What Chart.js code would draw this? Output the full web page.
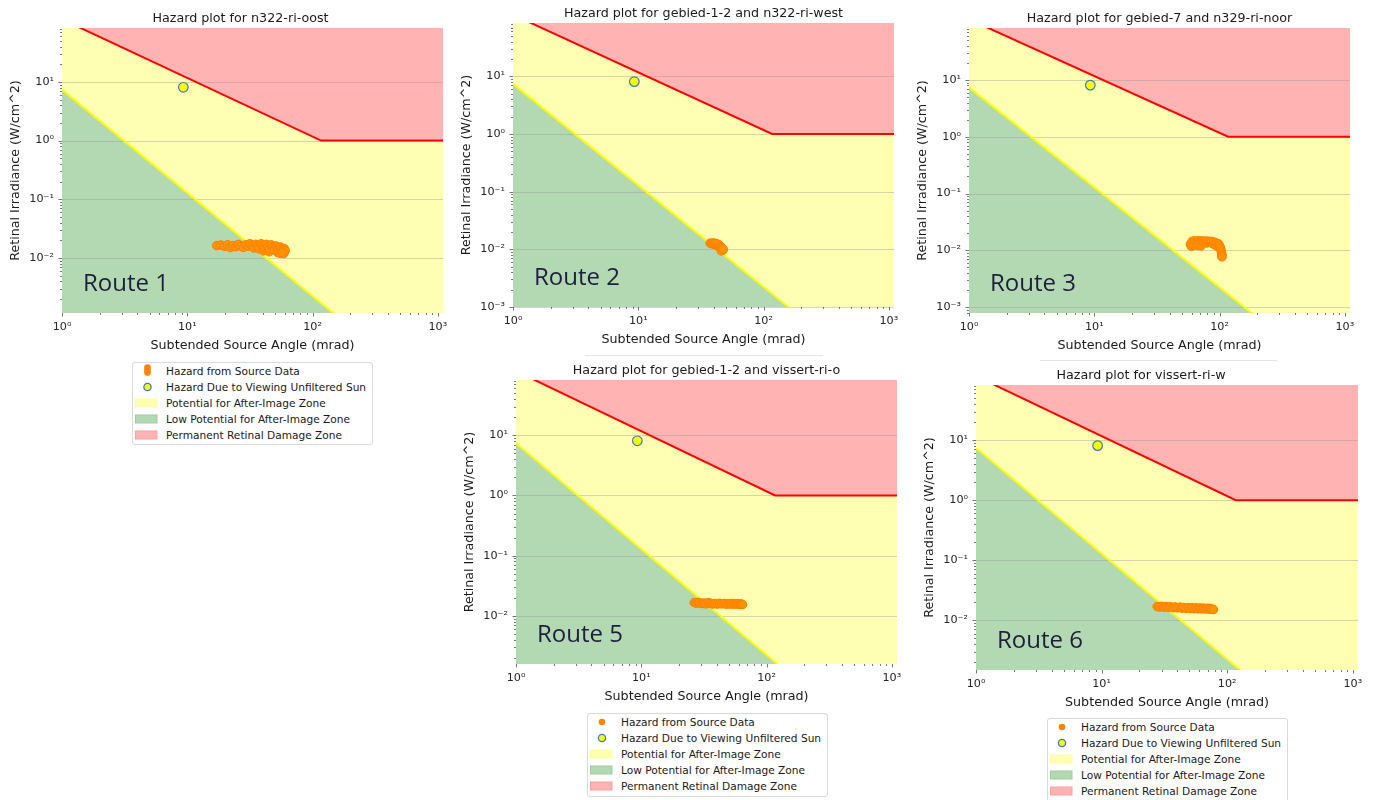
<!DOCTYPE html>
<html>
<head>
<meta charset="utf-8">
<title>Hazard plots</title>
<script src="https://cdn.jsdelivr.net/npm/chart.js@4.4.1/dist/chart.umd.min.js"></script>
<style>
  html, body { margin: 0; padding: 0; background: #fff; }
  body { width: 1373px; height: 800px; overflow: hidden; position: relative; font-family: 'DejaVu Sans', sans-serif; }
  canvas { position: absolute; }
  .legend { position: absolute; box-sizing: border-box; width: 241px; border: 1px solid #d9d9d9; border-radius: 3px;
            background: #fff; color: #1a1a1a; font-size: 10.6px; }
  .row { position: absolute; left: 0; height: 16px; line-height: 16px; padding-left: 33px; white-space: nowrap; }
  .row svg { position: absolute; left: 0; top: 0; }
  .sep { position: absolute; height: 1px; background: #e3e3e3; }
</style>
</head>
<body>

<div class="sep" style="left:585px; top:355px; width:238px;"></div>
<div class="sep" style="left:1040px; top:360px; width:237px;"></div>

<div class="legend" style="left:132px; top:362px; height:83px;">
  <div class="row" style="top:0px;"><svg width="30" height="16"><circle cx="14.5" cy="4.6" r="3.3" fill="#ff8400"/><circle cx="14.5" cy="7.2" r="3.3" fill="#ff8400"/><circle cx="14.5" cy="9.6" r="3.3" fill="#ff8400"/></svg>Hazard from Source Data</div>
  <div class="row" style="top:16.1px;"><svg width="30" height="16"><circle cx="14.5" cy="8" r="3.6" fill="#ffff00" stroke="#3d7ab8" stroke-width="1.3"/></svg>Hazard Due to Viewing Unfiltered Sun</div>
  <div class="row" style="top:32.2px;"><svg width="30" height="16"><rect x="2.5" y="4" width="21.5" height="8" fill="#ffffb3" stroke="#ffff99"/></svg>Potential for After-Image Zone</div>
  <div class="row" style="top:48.3px;"><svg width="30" height="16"><rect x="2.5" y="4" width="21.5" height="8" fill="#b3d9b3" stroke="#9fcc9f"/></svg>Low Potential for After-Image Zone</div>
  <div class="row" style="top:64.4px;"><svg width="30" height="16"><rect x="2.5" y="4" width="21.5" height="8" fill="#ffb3b3" stroke="#ffa0a0"/></svg>Permanent Retinal Damage Zone</div>
</div>

<div class="legend" style="left:587px; top:713px; height:84px;">
  <div class="row" style="top:0px;"><svg width="30" height="16"><circle cx="14" cy="8" r="3.3" fill="#ff8400"/></svg>Hazard from Source Data</div>
  <div class="row" style="top:16.1px;"><svg width="30" height="16"><circle cx="14" cy="8" r="3.6" fill="#ffff00" stroke="#3d7ab8" stroke-width="1.3"/></svg>Hazard Due to Viewing Unfiltered Sun</div>
  <div class="row" style="top:32.2px;"><svg width="30" height="16"><rect x="2.5" y="4" width="21.5" height="8" fill="#ffffb3" stroke="#ffff99"/></svg>Potential for After-Image Zone</div>
  <div class="row" style="top:48.3px;"><svg width="30" height="16"><rect x="2.5" y="4" width="21.5" height="8" fill="#b3d9b3" stroke="#9fcc9f"/></svg>Low Potential for After-Image Zone</div>
  <div class="row" style="top:64.4px;"><svg width="30" height="16"><rect x="2.5" y="4" width="21.5" height="8" fill="#ffb3b3" stroke="#ffa0a0"/></svg>Permanent Retinal Damage Zone</div>
</div>

<div class="legend" style="left:1047px; top:718px; height:90px;">
  <div class="row" style="top:0px;"><svg width="30" height="16"><circle cx="14" cy="8" r="3.3" fill="#ff8400"/></svg>Hazard from Source Data</div>
  <div class="row" style="top:16.1px;"><svg width="30" height="16"><circle cx="14" cy="8" r="3.6" fill="#ffff00" stroke="#3d7ab8" stroke-width="1.3"/></svg>Hazard Due to Viewing Unfiltered Sun</div>
  <div class="row" style="top:32.2px;"><svg width="30" height="16"><rect x="2.5" y="4" width="21.5" height="8" fill="#ffffb3" stroke="#ffff99"/></svg>Potential for After-Image Zone</div>
  <div class="row" style="top:48.3px;"><svg width="30" height="16"><rect x="2.5" y="4" width="21.5" height="8" fill="#b3d9b3" stroke="#9fcc9f"/></svg>Low Potential for After-Image Zone</div>
  <div class="row" style="top:64.4px;"><svg width="30" height="16"><rect x="2.5" y="4" width="21.5" height="8" fill="#ffb3b3" stroke="#ffa0a0"/></svg>Permanent Retinal Damage Zone</div>
</div>

<script>
// ---- axis ticks ----
const xMajorTicks = [1, 10, 100, 1000];
const xTickLabels = ['10⁰', '10¹', '10²', '10³'];
const yMajorTicks = [0.001, 0.01, 0.1, 1, 10];
const yTickLabels = ['10⁻³', '10⁻²', '10⁻¹', '10⁰', '10¹'];
const xRange = [1, 1100];

// ---- zone boundaries [angle mrad, irradiance W/cm^2] ----
const permanentDamageLine = [[1, 117], [117, 1], [2000, 1]];
const lowPotentialLine = [[1, 7.4], [200, 0.00066]];

// ---- unfiltered sun ----
const sunHazard = [[9.3, 8.1]];

// ---- hazard from source data, per route ----
const route1Hazard = [
  [17.2, 0.0162], [18.5, 0.0166], [19.8, 0.0157], [21.0, 0.0167], [22.0, 0.0150], [23.2, 0.0162],
  [24.5, 0.0155], [25.5, 0.0170], [26.8, 0.0160], [28.0, 0.0151], [29.3, 0.0167], [30.4, 0.0158],
  [31.6, 0.0174], [32.9, 0.0163], [34.0, 0.0148], [35.3, 0.0170], [36.6, 0.0158], [37.4, 0.0143],
  [38.9, 0.0174], [40.1, 0.0160], [40.5, 0.0132], [41.5, 0.0149], [42.7, 0.0170], [44.0, 0.0155],
  [45.0, 0.0127], [45.3, 0.0143], [46.8, 0.0167], [48.2, 0.0151], [49.6, 0.0138], [51.0, 0.0160],
  [52.4, 0.0146], [52.5, 0.0124], [54.0, 0.0136], [55.0, 0.0120], [55.4, 0.0153], [56.8, 0.0140],
  [58.0, 0.0130], [59.0, 0.0119], [59.4, 0.0145], [60.5, 0.0133], [57.2, 0.0124]
];
const route2Hazard = [
  [37.5, 0.0128], [38.5, 0.0125], [39.5, 0.0129], [40.4, 0.0122], [41.3, 0.0127], [42.0, 0.0118],
  [42.9, 0.0123], [43.6, 0.0113], [44.3, 0.0119], [44.9, 0.0107], [45.5, 0.0112], [46.1, 0.0101],
  [46.6, 0.0106], [47.2, 0.0097], [46.0, 0.0094], [47.6, 0.0100]
];
const route3Hazard = [
  [58.5, 0.0128], [59.5, 0.0118], [60.5, 0.0144], [62.0, 0.0124], [63.0, 0.0147], [65.0, 0.0140],
  [66.5, 0.0122], [67.5, 0.0148], [69.5, 0.0138], [71.0, 0.0120], [72.0, 0.0147], [74.5, 0.0141],
  [77.0, 0.0146], [79.0, 0.0135], [81.0, 0.0145], [83.5, 0.0139], [86.0, 0.0144], [88.0, 0.0131],
  [90.0, 0.0140], [92.0, 0.0125], [94.0, 0.0135], [96.0, 0.0118], [98.0, 0.0130], [100.0, 0.0122],
  [101.5, 0.0112], [102.5, 0.0103], [103.5, 0.0095], [104.0, 0.0087], [104.5, 0.0081], [104.5, 0.0077]
];
const route5Hazard = [
  [26.5, 0.0166], [27.5, 0.0162], [28.5, 0.0167], [29.2, 0.0164], [30.5, 0.0160], [31.5, 0.0163],
  [32.8, 0.0158], [34.2, 0.0166], [35.5, 0.0161], [37.0, 0.0157], [38.8, 0.0160], [40.5, 0.0157],
  [42.1, 0.0161], [44.0, 0.0158], [46.1, 0.0160], [47.8, 0.0156], [49.7, 0.0159], [51.2, 0.0157],
  [52.8, 0.0160], [54.5, 0.0156], [56.2, 0.0159], [57.9, 0.0157], [59.5, 0.0159], [61.5, 0.0155],
  [63.0, 0.0157], [64.3, 0.0154]
];
const route6Hazard = [
  [27.7, 0.0169], [28.8, 0.0166], [30.0, 0.0170], [31.3, 0.0165], [32.7, 0.0168], [34.0, 0.0164],
  [35.3, 0.0167], [37.0, 0.0162], [38.5, 0.0166], [40.0, 0.0161], [42.0, 0.0165], [43.5, 0.0159],
  [45.0, 0.0163], [47.0, 0.0158], [49.0, 0.0162], [50.8, 0.0157], [52.5, 0.0162], [54.5, 0.0156],
  [56.5, 0.0161], [58.5, 0.0155], [60.5, 0.0160], [62.5, 0.0155], [64.5, 0.0159], [66.8, 0.0154],
  [69.0, 0.0158], [71.0, 0.0153], [73.0, 0.0157], [75.0, 0.0153], [77.6, 0.0151]
];

const routeHazards = [route1Hazard, route2Hazard, route3Hazard, route5Hazard, route6Hazard];
const panelTitles = [
  'Hazard plot for n322-ri-oost',
  'Hazard plot for gebied-1-2 and n322-ri-west',
  'Hazard plot for gebied-7 and n329-ri-noor',
  'Hazard plot for gebied-1-2 and vissert-ri-o',
  'Hazard plot for vissert-ri-w'
];
const routeLabels = ['Route 1', 'Route 2', 'Route 3', 'Route 5', 'Route 6'];
const yAxisMin = [0.00115, 0.001, 0.00079, 0.00158, 0.00148];
const yAxisMax = [83, 84, 82, 83, 83];

// ---- page layout: plot area of each panel (px) ----
const panelBoxes = [
  { left: 62,  top: 28,  right: 443,  bottom: 313, titleShift: -12 },
  { left: 513, top: 23,  right: 894,  bottom: 307, titleShift: 0 },
  { left: 969, top: 28,  right: 1350, bottom: 313, titleShift: 0 },
  { left: 516, top: 380, right: 897,  bottom: 664, titleShift: 0 },
  { left: 976, top: 385, right: 1358, bottom: 670, titleShift: -26 }
];

const FONT = "'DejaVu Sans', sans-serif";
const toXY = pts => pts.map(([x, y]) => ({ x, y }));

function labelFor(value, majors, labels) {
  const i = majors.findIndex(t => Math.abs(Math.log10(t) - Math.log10(value)) < 1e-9);
  return i < 0 ? '' : labels[i];
}

function minorValues(lo, hi) {
  const out = [];
  for (let e = Math.floor(Math.log10(lo)); e <= Math.ceil(Math.log10(hi)); e++) {
    for (let m = 2; m <= 9; m++) {
      const v = m * Math.pow(10, e);
      if (v >= lo && v <= hi) out.push(v);
    }
  }
  return out;
}

function decorations(i) {
  return {
    id: 'panelDecor' + i,
    // horizontal grid at the decades, over the zone fills and under the lines
    beforeDatasetsDraw(chart) {
      const { ctx, chartArea: a, scales: { y } } = chart;
      ctx.save();
      ctx.strokeStyle = 'rgba(150,150,150,0.4)';
      ctx.lineWidth = 1;
      for (const t of y.ticks) {
        const py = Math.round(y.getPixelForValue(t.value)) + 0.5;
        ctx.beginPath(); ctx.moveTo(a.left, py); ctx.lineTo(a.right, py); ctx.stroke();
      }
      ctx.restore();
    },
    afterDraw(chart) {
      const { ctx, chartArea: a, scales: { x, y } } = chart;
      ctx.save();
      // tick marks
      ctx.strokeStyle = '#555';
      ctx.lineWidth = 0.8;
      const xTick = (v, len) => {
        const px = Math.round(x.getPixelForValue(v)) + 0.5;
        ctx.beginPath(); ctx.moveTo(px, a.bottom); ctx.lineTo(px, a.bottom + len); ctx.stroke();
      };
      const yTick = (v, len) => {
        const py = Math.round(y.getPixelForValue(v)) + 0.5;
        ctx.beginPath(); ctx.moveTo(a.left - len, py); ctx.lineTo(a.left, py); ctx.stroke();
      };
      x.ticks.forEach(t => xTick(t.value, 3.5));
      minorValues(x.min, x.max).forEach(v => xTick(v, 2));
      y.ticks.forEach(t => yTick(t.value, 3.5));
      minorValues(y.min, y.max).forEach(v => yTick(v, 2));

      // panel title
      ctx.fillStyle = '#1a1a1a';
      ctx.font = '12.7px ' + FONT;
      ctx.textAlign = 'center';
      ctx.textBaseline = 'alphabetic';
      ctx.fillText(panelTitles[i], (a.left + a.right) / 2 + panelBoxes[i].titleShift, a.top - 6);

      // route label
      ctx.fillStyle = '#1f1f3d';
      ctx.font = "24px 'Open Sans', sans-serif";
      ctx.textAlign = 'left';
      ctx.fillText(routeLabels[i], a.left + 21, a.bottom - 22);
      ctx.restore();
    }
  };
}

function makePanel(i) {
  const box = panelBoxes[i];
  const cl = box.left - 60, ct = box.top - 23;
  const cw = box.right - box.left + 74, ch = box.bottom - box.top + 70;
  const cv = document.createElement('canvas');
  cv.width = cw; cv.height = ch;
  cv.style.left = cl + 'px'; cv.style.top = ct + 'px';
  cv.style.width = cw + 'px'; cv.style.height = ch + 'px';
  document.body.appendChild(cv);

  const tickFont = { family: FONT, size: 11.2 };
  const titleFont = { family: FONT, size: 12.7 };

  new Chart(cv, {
    type: 'line',
    data: {
      datasets: [
        { label: 'Potential for After-Image Zone', data: toXY(permanentDamageLine), fill: 'start',
          backgroundColor: '#ffffb3', borderWidth: 0, pointRadius: 0, order: 10 },
        { label: 'Low Potential for After-Image Zone', data: toXY(lowPotentialLine), fill: 'start',
          backgroundColor: '#b3d9b3', borderColor: '#ffff00', borderWidth: 2, pointRadius: 0, order: 9 },
        { label: 'Permanent Retinal Damage Zone', data: toXY(permanentDamageLine), fill: 'end',
          backgroundColor: '#ffb3b3', borderColor: '#ff0000', borderWidth: 2, pointRadius: 0, order: 8 },
        { label: 'Hazard from Source Data', data: toXY(routeHazards[i]), showLine: false,
          pointRadius: 4.3, pointBackgroundColor: '#ff9400', pointBorderColor: '#ff8000', pointBorderWidth: 1, order: 2 },
        { label: 'Hazard Due to Viewing Unfiltered Sun', data: toXY(sunHazard), showLine: false,
          pointRadius: 4.8, pointBackgroundColor: '#ffff00', pointBorderColor: '#3d7ab8', pointBorderWidth: 1.2, order: 1 }
      ]
    },
    options: {
      responsive: false,
      animation: false,
      events: [],
      layout: { padding: { left: 5, top: 23, right: 14, bottom: 2 } },
      plugins: {
        legend: { display: false },
        tooltip: { enabled: false },
        title: { display: false },
        filler: { drawTime: 'beforeDatasetsDraw' }
      },
      scales: {
        x: {
          type: 'logarithmic', min: xRange[0], max: xRange[1], bounds: 'data',
          afterBuildTicks: s => { s.ticks = xMajorTicks.filter(v => v >= s.min && v <= s.max).map(v => ({ value: v })); },
          afterFit: s => { s.height = 45; },
          grid: { display: false, drawTicks: false },
          border: { display: false },
          ticks: { autoSkip: false, maxRotation: 0, padding: 7.5, font: tickFont, color: '#262626',
                   callback: v => labelFor(v, xMajorTicks, xTickLabels) },
          title: { display: true, text: 'Subtended Source Angle (mrad)', font: titleFont, color: '#1a1a1a',
                   padding: { top: 0, bottom: 4.9 } }
        },
        y: {
          type: 'logarithmic', min: yAxisMin[i], max: yAxisMax[i], bounds: 'data',
          afterBuildTicks: s => { s.ticks = yMajorTicks.filter(v => v >= s.min * 0.999 && v <= s.max).map(v => ({ value: v })); },
          afterFit: s => { s.width = 55; },
          grid: { display: false, drawTicks: false },
          border: { display: false },
          ticks: { autoSkip: false, padding: 8, font: tickFont, color: '#262626',
                   callback: v => labelFor(v, yMajorTicks, yTickLabels) },
          title: { display: true, text: 'Retinal Irradiance (W/cm^2)', font: titleFont, color: '#1a1a1a',
                   padding: { top: 1.4, bottom: 0 } }
        }
      }
    },
    plugins: [decorations(i)]
  });
}

for (let i = 0; i < panelBoxes.length; i++) makePanel(i);
</script>
</body>
</html>
